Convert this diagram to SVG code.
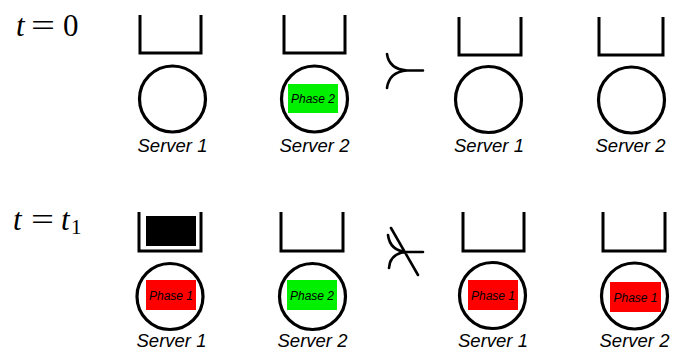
<svg xmlns="http://www.w3.org/2000/svg" width="673" height="360" viewBox="0 0 673 360">
<style>
.q{fill:none;stroke:#000;stroke-width:3;stroke-linejoin:miter;stroke-linecap:butt}
.c{fill:#fff;stroke:#000;stroke-width:3.2}
.lbl{font-family:"Liberation Sans",Arial,sans-serif;font-style:italic;font-size:18.5px;text-anchor:middle;fill:#000}
.ph{font-family:"Liberation Sans",Arial,sans-serif;font-style:italic;font-size:12px;text-anchor:middle;fill:#000}
.math{font-family:"Liberation Serif","Times New Roman",serif;font-size:31px;fill:#000}
.it{font-style:italic}
.sym{fill:none;stroke:#000;stroke-width:2.6;stroke-linecap:round}
.red{fill:#ff0000}
.grn{fill:#00f000}
</style>
<rect width="673" height="360" fill="#fff"/>

<g id="time0">
<text class="math" y="36"><tspan class="it" x="16">t</tspan><tspan x="31" textLength="24" lengthAdjust="spacingAndGlyphs">=</tspan><tspan x="63">0</tspan></text>
</g>
<g id="time1">
<text class="math" y="230"><tspan class="it" x="13">t</tspan><tspan x="31" textLength="23" lengthAdjust="spacingAndGlyphs">=</tspan><tspan class="it" x="61">t</tspan></text>
<text class="math" x="71" y="234" style="font-size:21px">1</text>
</g>

<!-- Row 1 -->
<g id="r1s1">
<path class="q" d="M140,15 V53 H201 V15"/>
<circle class="c" cx="172.5" cy="99" r="33"/>
<text class="lbl" x="172.5" y="152">Server 1</text>
</g>
<g id="r1s2">
<path class="q" d="M284,15 V53 H345 V15"/>
<circle class="c" cx="314.5" cy="99" r="33"/>
<rect class="grn" x="288" y="84" width="50" height="29"/>
<text class="ph" x="313" y="102.5">Phase 2</text>
<text class="lbl" x="314.5" y="152">Server 2</text>
</g>
<g id="r1s3">
<path class="q" d="M459,17 V55 H521 V17"/>
<circle class="c" cx="488.5" cy="99.5" r="33"/>
<text class="lbl" x="489" y="152">Server 1</text>
</g>
<g id="r1s4">
<path class="q" d="M599,17 V55 H663 V17"/>
<circle class="c" cx="631.5" cy="100" r="33"/>
<text class="lbl" x="630.5" y="152">Server 2</text>
</g>

<!-- Row 2 -->
<g id="r2s1">
<path class="q" d="M139,212 V251 H201 V212"/>
<rect x="146" y="216" width="50" height="30" fill="#000"/>
<circle class="c" cx="170" cy="296.5" r="33"/>
<rect class="red" x="146" y="280" width="50" height="30"/>
<text class="ph" x="171" y="299.5">Phase 1</text>
<text class="lbl" x="171.5" y="347">Server 1</text>
</g>
<g id="r2s2">
<path class="q" d="M281,212 V251 H343 V212"/>
<circle class="c" cx="312.5" cy="296.5" r="33"/>
<rect class="grn" x="287" y="280" width="50" height="30"/>
<text class="ph" x="312" y="299.5">Phase 2</text>
<text class="lbl" x="312.5" y="347">Server 2</text>
</g>
<g id="r2s3">
<path class="q" d="M463,212 V251 H524 V212"/>
<circle class="c" cx="492.5" cy="295.5" r="33"/>
<rect class="red" x="468" y="280" width="50" height="30"/>
<text class="ph" x="493" y="299.5">Phase 1</text>
<text class="lbl" x="493" y="347">Server 1</text>
</g>
<g id="r2s4">
<path class="q" d="M603,212 V251 H665 V212"/>
<circle class="c" cx="634.5" cy="296" r="33"/>
<rect class="red" x="610" y="282" width="51" height="30"/>
<text class="ph" x="635.5" y="301.5">Phase 1</text>
<text class="lbl" x="634.5" y="347">Server 2</text>
</g>

<g id="connectors">
<path class="sym" d="M387,54 Q389,69 407,70.5 H423 M387,88 Q389,72 407,70.5"/>
<path class="sym" d="M388,235 Q390,251 407,252 H423 M389,268 Q390,253 407,252 M391,228 L418,275"/>
</g>
</svg>
